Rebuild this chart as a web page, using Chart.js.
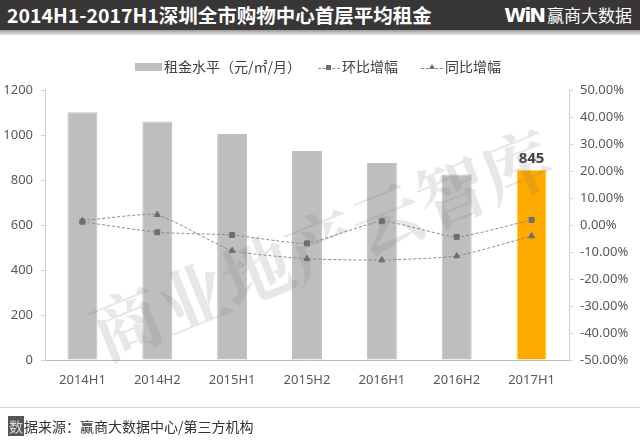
<!DOCTYPE html>
<html><head><meta charset="utf-8">
<script src="https://cdn.jsdelivr.net/npm/chart.js@4/dist/chart.umd.min.js"></script>
<style>
html,body{margin:0;padding:0;background:#fff;}
#wrap{position:relative;width:640px;height:440px;overflow:hidden;font-family:"Noto Sans CJK SC","Noto Sans",sans-serif;}
#titlebar{position:absolute;left:0;top:0;width:640px;height:30px;background:#383636;}
#shadow{position:absolute;left:0;top:30px;width:640px;height:5px;background:linear-gradient(#9a9a9a,#e6e6e6);}
#title{position:absolute;left:7px;top:2px;color:#fff;font-weight:bold;font-size:19.5px;line-height:26px;letter-spacing:0px;}
#logo{position:absolute;right:8px;top:3px;color:#fff;line-height:24px;white-space:nowrap;}
#logo b{font-family:"DejaVu Sans",sans-serif;font-size:20px;font-weight:900;letter-spacing:-2px;margin-right:3px;}
#logo span{font-size:17px;}
#c{position:absolute;left:0;top:0;}
#legend{position:absolute;top:56px;left:0;width:640px;height:20px;font-size:14px;color:#404040;line-height:20px;}
.li{position:absolute;top:0;white-space:nowrap;}
.box{display:inline-block;width:27px;height:8px;background:#bfbebf;vertical-align:middle;margin-right:2px;position:relative;top:-1px;}
.ln{display:inline-block;width:22px;height:0;border-top:1px dashed #8c8c8c;vertical-align:middle;position:relative;margin-right:2px;}
.sq{position:absolute;left:8px;top:-4px;width:5px;height:5px;background:#6e6e6e;}
.tri{position:absolute;left:8px;top:-5px;width:0;height:0;border-left:3px solid transparent;border-right:3px solid transparent;border-bottom:5px solid #6e6e6e;}
#footline{position:absolute;left:0;top:407px;width:640px;height:1px;background:#d4d4d4;}
#foot{position:absolute;left:8px;top:416px;font-size:14px;color:#333;line-height:20px;white-space:nowrap;}
#foot i{font-style:normal;background:#555;color:#ddd;padding:0 1px;}
</style></head>
<body><div id="wrap">
<canvas id="c" width="640" height="440"></canvas>
<div id="titlebar"></div><div id="shadow"></div>
<div id="title">2014H1-2017H1深圳全市购物中心首层平均租金</div>
<div id="logo"><b>WiN</b><span>赢商大数据</span></div>
<div id="legend">
 <div class="li" style="left:135px"><span class="box"></span>租金水平（元/㎡/月）</div>
 <div class="li" style="left:318px"><span class="ln"><span class="sq"></span></span>环比增幅</div>
 <div class="li" style="left:421px"><span class="ln"><span class="tri"></span></span>同比增幅</div>
</div>
<div id="footline"></div>
<div id="foot"><i>数</i>据来源：赢商大数据中心/第三方机构</div>
</div>
<script>
const categories = ["2014H1","2014H2","2015H1","2015H2","2016H1","2016H2","2017H1"];
const rent = [1101, 1060, 1004, 929, 876, 825, 845];
const qoq = [0.012, -0.027, -0.037, -0.068, 0.014, -0.044, 0.019];
const yoy = [0.016, 0.038, -0.095, -0.125, -0.130, -0.115, -0.041];
const barColors = ["#bfbebf","#bfbebf","#bfbebf","#bfbebf","#bfbebf","#bfbebf","#ffaa00"];
const barBorders = ["#bfbebf","#bfbebf","#bfbebf","#bfbebf","#bfbebf","#bfbebf","#ffd84a"];
const watermark = "商业地产云智库";

const tickFont = {family:"'Noto Sans','Open Sans',sans-serif", size:13};

const overlay = {
  id:'overlay',
  afterDatasetsDraw(chart){
    const ctx = chart.ctx;
    const meta = chart.getDatasetMeta(2);
    const last = meta.data[rent.length-1];
    ctx.save();
    ctx.fillStyle = '#404040';
    ctx.font = "bold 15px 'Noto Sans',sans-serif";
    ctx.textAlign = 'center';
    ctx.textBaseline = 'bottom';
    ctx.fillText(String(rent[rent.length-1]), last.x, last.y - 4);
    ctx.restore();
    ctx.save();
    ctx.translate(322, 245);
    ctx.rotate(-22*Math.PI/180);
    ctx.font = "bold 70px 'Noto Serif CJK SC','Noto Sans CJK SC',serif";
    ctx.fillStyle = 'rgba(110,110,110,0.17)';
    ctx.textAlign = 'center';
    ctx.textBaseline = 'middle';
    ctx.fillText(watermark, 0, 0);
    ctx.restore();
  }
};

new Chart(document.getElementById('c'), {
  data:{
    labels: categories,
    datasets:[
      {type:'line', label:'环比增幅', data:qoq, yAxisID:'y1', order:0,
       borderColor:'#8c8c8c', borderWidth:1, borderDash:[3,2], tension:0.15,
       pointStyle:'rect', pointRadius:3.5, pointBackgroundColor:'#6e6e6e', pointBorderColor:'#6e6e6e', pointBorderWidth:1},
      {type:'line', label:'同比增幅', data:yoy, yAxisID:'y1', order:0,
       borderColor:'#8c8c8c', borderWidth:1, borderDash:[3,2], tension:0.15,
       pointStyle:'triangle', pointRadius:3.5, pointBackgroundColor:'#6e6e6e', pointBorderColor:'#6e6e6e', pointBorderWidth:1},
      {type:'bar', label:'租金水平（元/㎡/月）', data:rent, yAxisID:'y', order:1,
       backgroundColor:barColors, borderColor:barBorders, borderWidth:1,
       barPercentage:0.4, categoryPercentage:1}
    ]
  },
  options:{
    responsive:false, animation:false,
    layout:{padding:{top:90,bottom:40,left:0,right:0}},
    plugins:{legend:{display:false}, tooltip:{enabled:false}},
    scales:{
      x:{
        grid:{display:false, drawTicks:false},
        border:{color:'#bdbdbd', dash:[2,2]},
        ticks:{color:'#595959', font:tickFont, padding:12},
        afterFit(s){ s.height = 40; }
      },
      y:{
        position:'left', min:0, max:1200,
        ticks:{stepSize:200, color:'#595959', font:tickFont, padding:8,
          callback:v=>String(v)},
        grid:{drawOnChartArea:false, tickLength:4, color:'#d0d0d0'},
        border:{color:'#d0d0d0'},
        afterFit(s){ s.width = 45; }
      },
      y1:{
        position:'right', min:-0.5, max:0.5,
        ticks:{stepSize:0.1, color:'#595959', font:tickFont, padding:7,
          callback:v=>(v*100).toFixed(2)+'%'},
        grid:{drawOnChartArea:false, tickLength:4, color:'#d0d0d0'},
        border:{color:'#d0d0d0'},
        afterFit(s){ s.width = 71; }
      }
    }
  },
  plugins:[overlay]
});
</script>
</body></html>
